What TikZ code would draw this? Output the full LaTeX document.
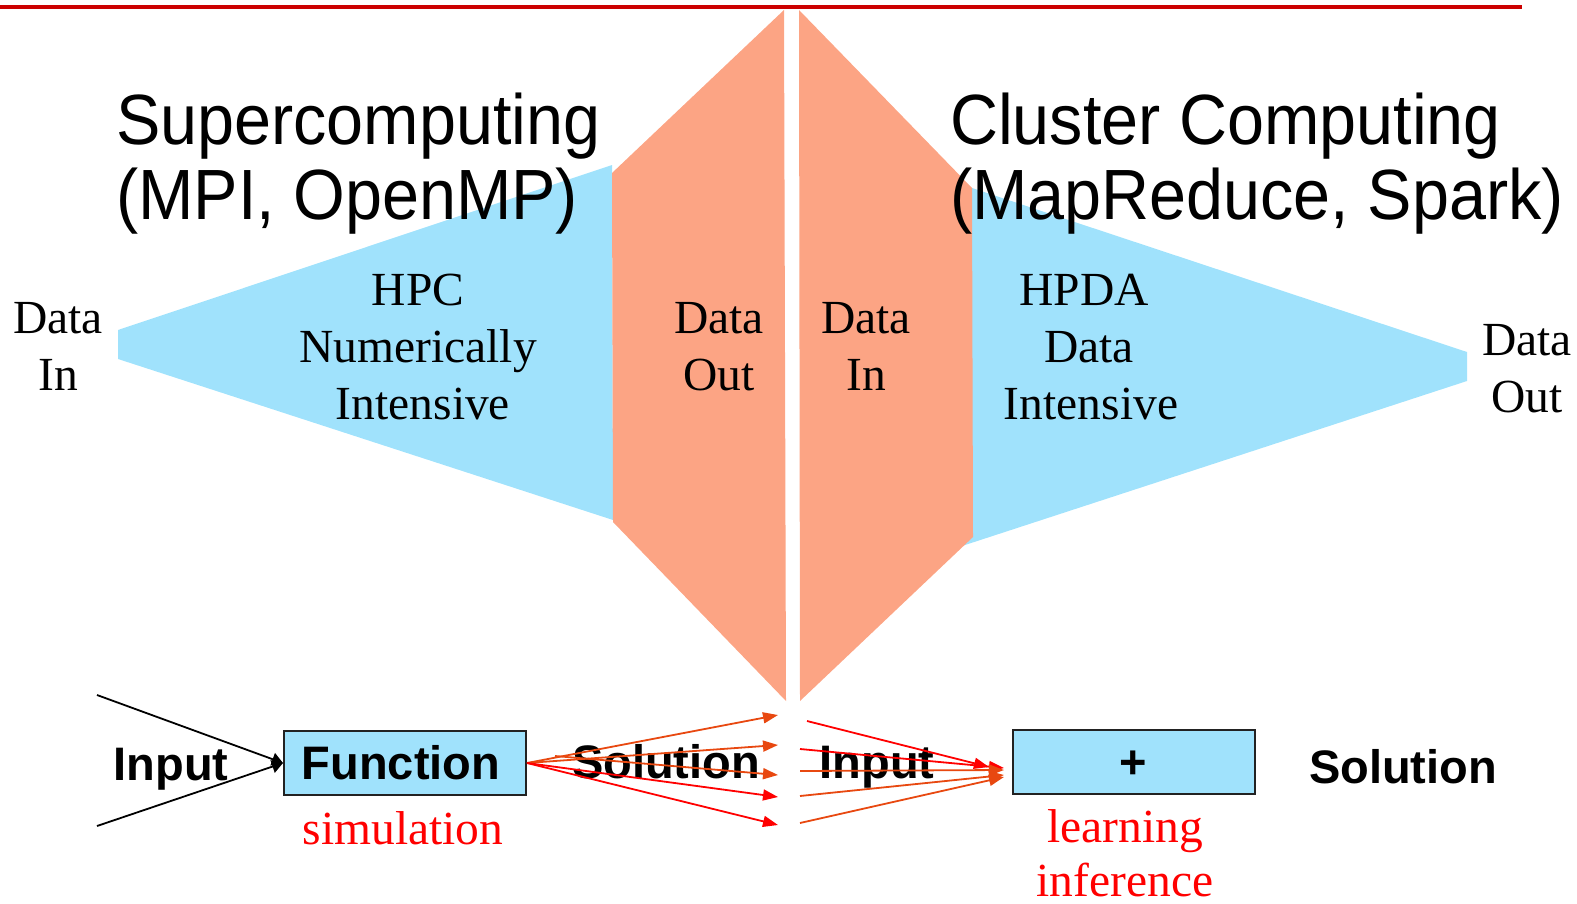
\documentclass[tikz,border=0pt]{standalone}
\usepackage{fontspec}
\setmainfont{Liberation Serif}
\setsansfont{Liberation Sans}
\usetikzlibrary{arrows.meta}
\definecolor{skyb}{RGB}{160,226,252}
\definecolor{salmonc}{RGB}{252,164,132}
\definecolor{topred}{RGB}{204,0,0}
\definecolor{ored}{RGB}{232,72,16}
\definecolor{boxline}{RGB}{34,34,34}
\tikzset{
  ttl/.style={font=\sffamily\fontsize{66.5}{75}\selectfont, anchor=base west, inner sep=0pt},
  lbl/.style={font=\fontsize{47.5}{57}\selectfont, anchor=base, inner sep=0pt},
  rlbl/.style={lbl, text=red},
  bld/.style={font=\sffamily\bfseries\fontsize{47}{50}\selectfont, anchor=base, inner sep=0pt},
  fbox/.style={draw=boxline, line width=2pt, fill=skyb, minimum width=242pt, minimum height=64pt, inner sep=0pt},
  redarr/.style={draw=red, line width=1.8pt, -{Triangle[length=15pt,width=11pt]}},
  orarr/.style={draw=ored, line width=1.8pt, -{Triangle[length=15pt,width=11pt]}},
  blkarr/.style={draw=black, line width=1.8pt, -{Triangle[length=11pt,width=13pt]}}
}
\begin{document}
\begin{tikzpicture}[x=1pt,y=-1pt]
\useasboundingbox (0,0) rectangle (1577,904);
% top rule
\draw[topred, line width=4pt] (0,7) -- (1522,7);
% shapes
\fill[skyb] (118,330) -- (612,165) -- (613,520) -- (118,359) -- cycle;
\fill[salmonc] (612,173) -- (784,10) -- (786,701) -- (613,522) -- cycle;
\fill[skyb] (972,188) -- (1467,352) -- (1467,381) -- (962,546) -- cycle;
\fill[salmonc] (799,10) -- (972,188) -- (973,537) -- (800,701) -- cycle;
% titles
\node[ttl] (sc1) at (116,145) {\scalebox{1}[1.07]{Supercomputing}};
\node[ttl] (sc2) at (116,220) {\scalebox{1}[1.07]{(MPI, OpenMP)}};
\node[ttl] (cc1) at (950,145) {\scalebox{1}[1.07]{Cluster Computing}};
\node[ttl] (cc2) at (950,220) {\scalebox{1}[1.07]{(MapReduce, Spark)}};
% serif labels
\node[lbl] (din1) at (58,333) {Data};
\node[lbl] (din2) at (58,390) {In};
\node[lbl] (hpc1) at (418,305) {HPC};
\node[lbl] (hpc2) at (418,362) {Numerically};
\node[lbl] (hpc3) at (423,419) {Intensive};
\node[lbl] (dout1) at (719,333) {Data};
\node[lbl] (dout2) at (719,390) {Out};
\node[lbl] (din3) at (866,333) {Data};
\node[lbl] (din4) at (866,390) {In};
\node[lbl] (hpda1) at (1084,305) {HPDA};
\node[lbl] (hpda2) at (1089,362) {Data};
\node[lbl] (hpda3) at (1091,419) {Intensive};
\node[lbl] (dout3) at (1527,355) {Data};
\node[lbl] (dout4) at (1527,412) {Out};
% bottom row
\node[bld] (in1) at (171,780) {Input};
\node[fbox] (fn) at (405,763) {};
\node[bld] (fntxt) at (401,779) {Function};
\node[bld] (in0) at (666,778) {Solution};
\node[bld] (in2) at (877,778) {Input};
\node[fbox] (pl) at (1133.5,761.5) {};
\node[bld] (pltxt) at (1133.5,778) {+};
\node[bld] (sol2) at (1403,783) {Solution};
\node[rlbl] (sim) at (403,844) {simulation};
\node[rlbl] (lrn) at (1125,842) {learning};
\node[rlbl] (inf) at (1125,896) {inference};
% coordinates
\coordinate (a1) at (97,695);
\coordinate (a2) at (97,826);
\coordinate (s1) at (778,715);
\coordinate (s2) at (778,745);
\coordinate (s3a) at (555,756);
\coordinate (s3) at (778,775);
\coordinate (s4) at (778,797);
\coordinate (s5) at (778,825);
\coordinate (r1) at (807,721);
\coordinate (r2) at (800,749);
\coordinate (r3) at (800,771);
\coordinate (r4) at (800,796);
\coordinate (r5) at (800,823);
\coordinate (t1) at (989,767);
\coordinate (t2) at (1004,768);
\coordinate (t3) at (1004,770);
\coordinate (t4) at (1004,775);
\coordinate (t5) at (1004,777);
% input arrows
\draw[blkarr] (a1) -- (fn.west);
\draw[blkarr] (a2) -- (fn.west);
% fan-out
\draw[orarr] (fn.east) -- (s1);
\draw[orarr] (fn.east) -- (s2);
\draw[orarr] (s3a) -- (s3);
\draw[redarr] (fn.east) -- (s4);
\draw[redarr] (fn.east) -- (s5);
% fan-in
\draw[redarr] (r1) -- (t1);
\draw[redarr] (r2) -- (t2);
\draw[orarr] (r3) -- (t3);
\draw[orarr] (r4) -- (t4);
\draw[orarr] (r5) -- (t5);
\end{tikzpicture}
\end{document}
